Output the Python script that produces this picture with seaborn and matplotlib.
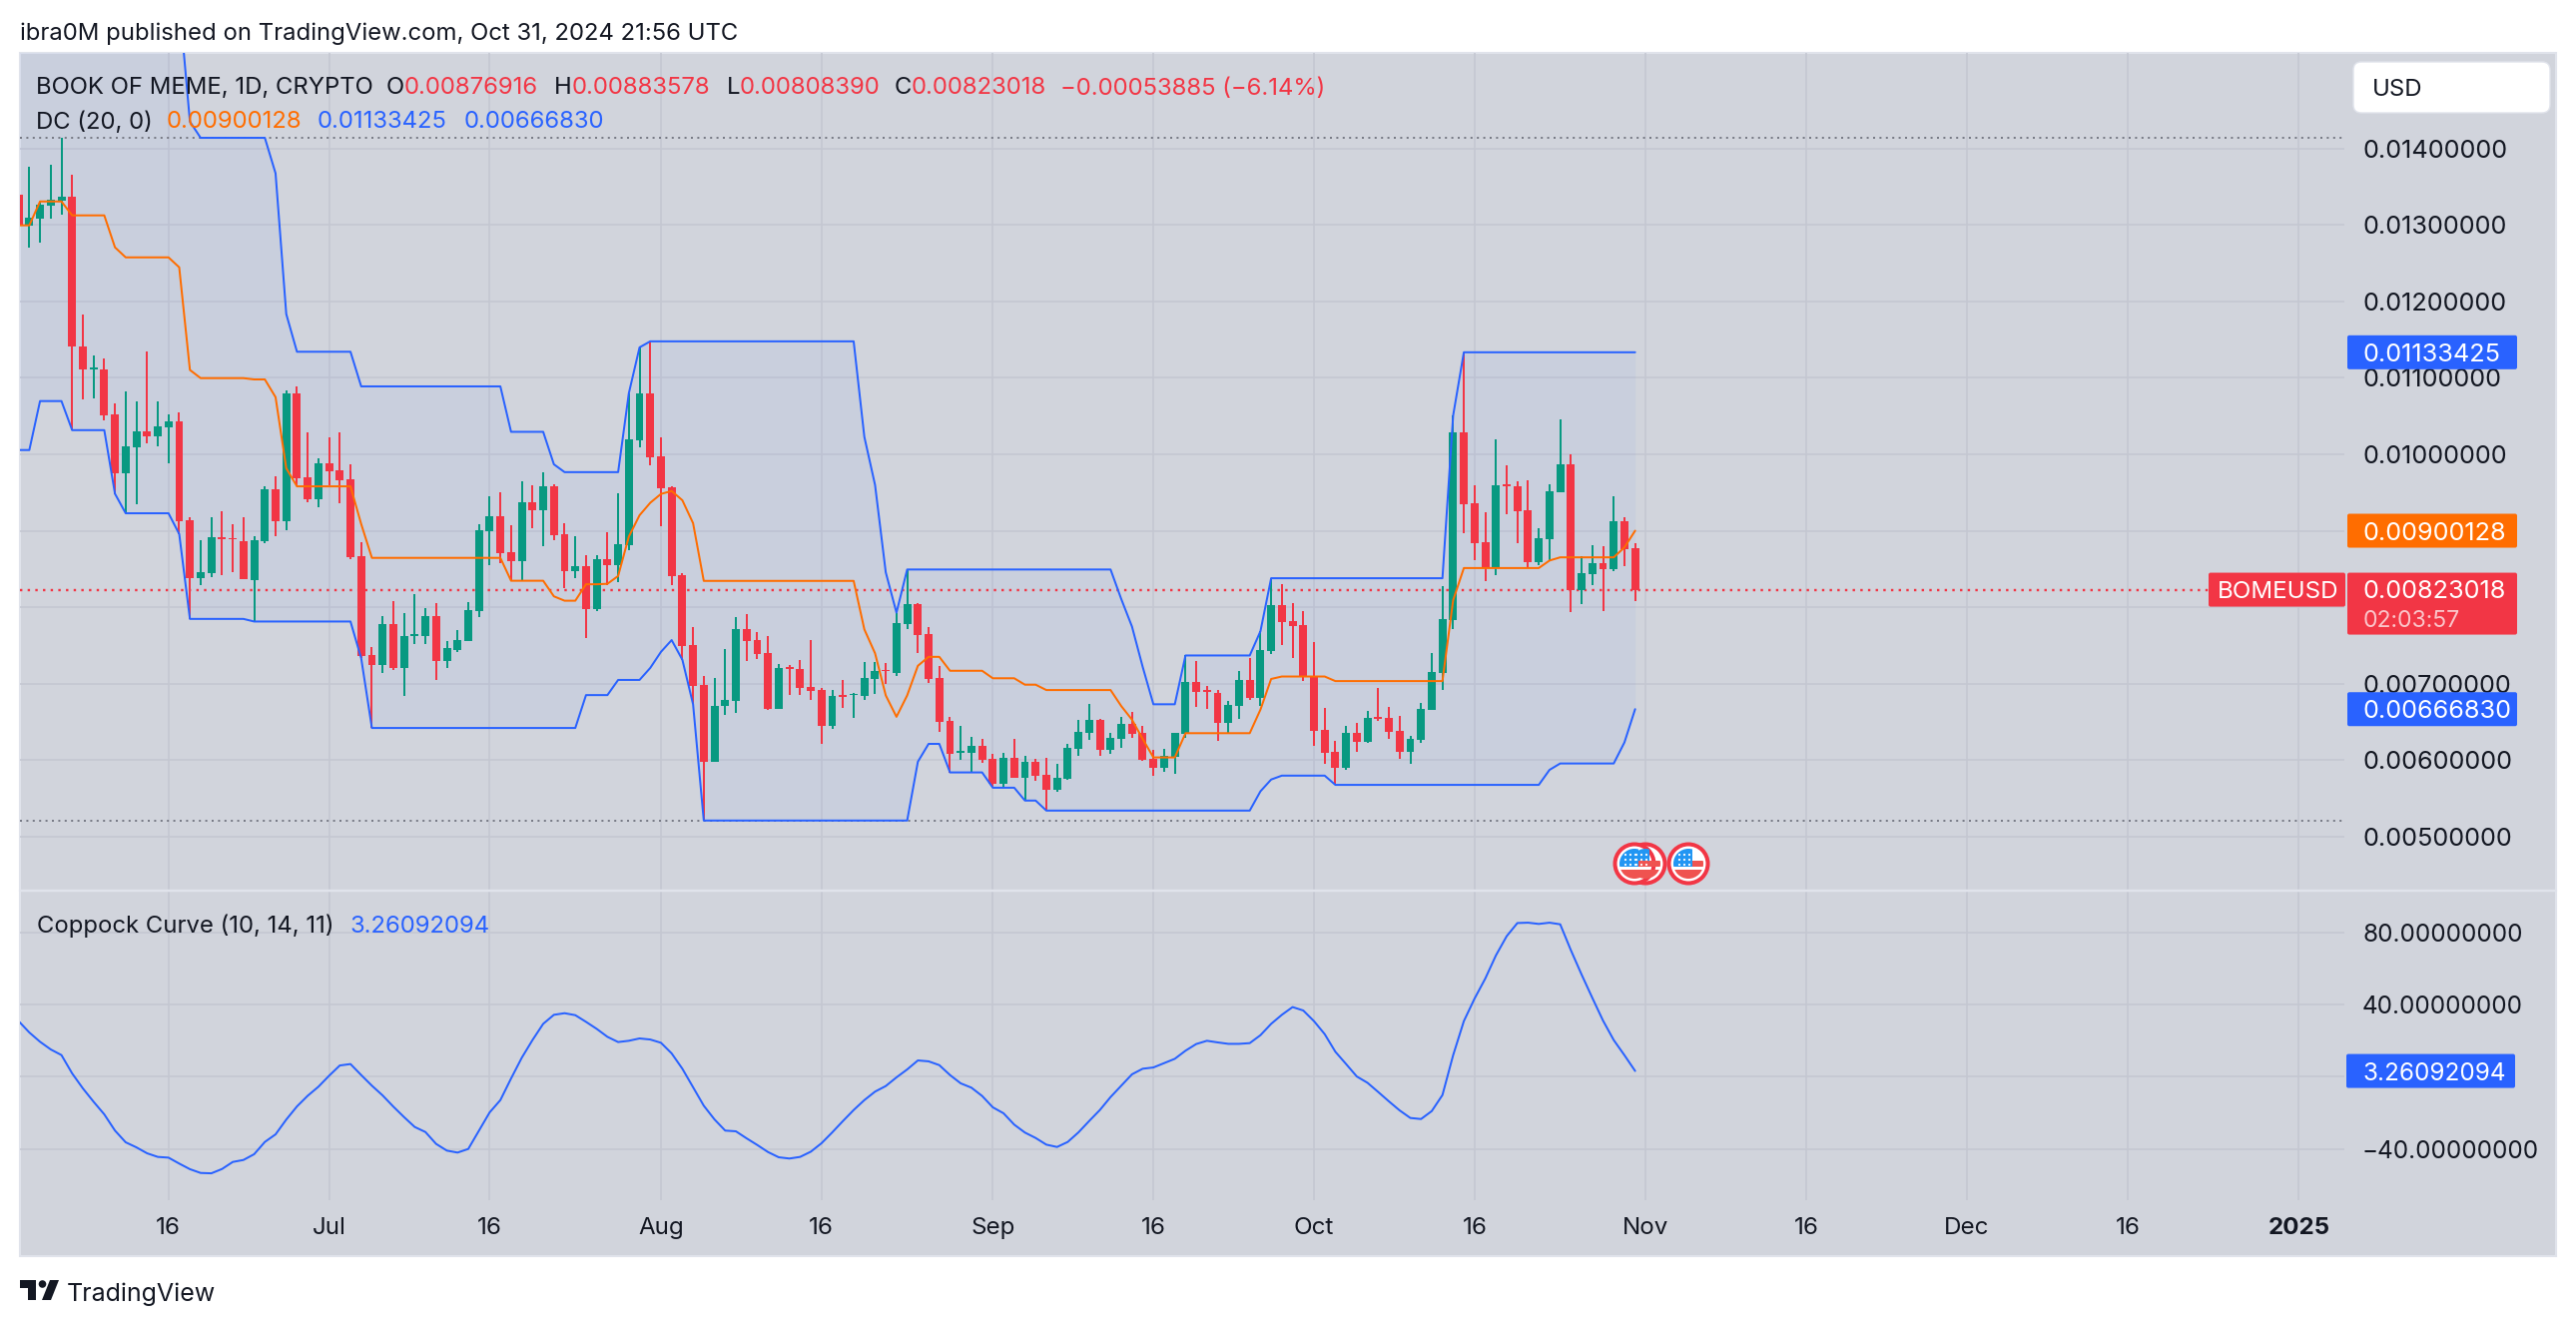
import numpy as np
import pandas as pd
import matplotlib
matplotlib.use("Agg")
import matplotlib.pyplot as plt
from matplotlib.patches import Rectangle, FancyBboxPatch, Circle, Polygon
import seaborn as sns

# ---------- data (prices in thousandths of a USD) ----------
open_ = [13.390,12.994,13.079,13.255,13.317,13.362,11.415,11.109,11.115,10.520,9.750,10.096,10.305,10.237,10.350,10.430,9.139,8.380,8.448,8.918,8.901,8.867,8.358,8.862,9.541,9.128,10.798,9.694,9.411,
 9.881,9.790,9.671,8.663,7.378,7.248,7.780,7.208,7.622,7.622,7.888,7.299,7.446,7.559,7.950,8.997,9.190,8.720,8.601,9.371,9.269,9.580,8.958,8.471,8.539,7.973,8.629,8.550,8.811,10.181,10.797,
 9.972,9.571,8.420,7.506,6.983,5.981,6.704,6.774,7.715,7.571,7.403,6.671,7.221,7.193,6.960,6.918,6.447,6.853,6.848,6.839,7.067,7.175,7.142,7.781,8.047,7.650,7.077,6.513,6.102,6.102,6.186,
 6.018,5.692,6.032,5.771,5.981,5.809,5.613,5.757,6.149,6.359,6.526,6.135,6.279,6.475,6.354,6.018,5.902,6.042,6.345,7.021,6.914,6.881,6.489,6.708,7.049,6.811,7.426,8.028,7.818,7.767,
 7.095,6.396,6.112,5.907,6.359,6.242,6.569,6.555,6.382,6.112,6.266,6.657,7.142,7.832,10.289,9.361,8.853,8.513,9.609,9.581,9.268,8.592,8.895,9.506,9.870,8.228,8.434,8.578,8.499,9.124,8.769]
high = [13.390,13.758,13.306,13.787,14.138,13.657,11.828,11.290,11.251,10.667,10.820,10.690,11.347,10.690,10.520,10.543,9.173,8.878,9.184,9.258,9.088,9.184,8.935,9.580,9.711,10.837,10.883,10.288,9.954,
 10.220,10.288,9.869,8.845,7.486,7.882,8.080,7.927,8.171,7.995,8.058,7.559,7.701,8.069,9.088,9.450,9.501,9.071,9.648,9.597,9.767,9.609,9.105,8.929,8.680,8.680,8.980,9.490,10.798,11.398,11.478,
 10.219,9.580,8.443,7.748,7.100,7.077,7.454,7.874,7.911,7.678,7.622,7.258,7.249,7.310,7.571,6.951,6.918,7.049,6.881,7.287,7.287,7.268,7.930,8.494,8.056,7.748,7.231,6.568,6.447,6.307,6.279,
 6.084,6.093,6.279,6.056,6.018,6.032,5.953,6.214,6.522,6.736,6.545,6.359,6.568,6.634,6.447,6.135,6.149,6.354,7.370,7.296,6.970,6.914,6.774,7.161,7.338,7.687,8.377,8.298,8.056,7.949,
 7.552,6.681,6.247,6.447,6.485,6.643,6.946,6.699,6.578,6.317,6.750,7.403,8.275,10.508,11.334,9.595,9.245,10.196,9.856,9.641,9.660,9.035,9.609,10.457,10.000,8.667,8.811,8.797,9.450,9.180,8.836]
low = [12.994,12.705,12.768,13.079,13.136,10.316,10.713,10.730,10.447,9.484,9.230,9.343,10.147,10.107,9.881,8.958,7.848,8.295,8.392,8.426,8.465,8.369,7.814,8.833,8.935,9.014,9.597,9.371,9.314,
 9.597,9.360,8.624,7.333,6.422,7.135,7.174,6.840,7.514,7.514,7.050,7.208,7.418,7.559,7.871,8.550,8.578,8.352,8.352,9.031,8.794,8.873,8.250,8.380,7.599,7.950,8.295,8.324,8.748,10.090,9.855,
 9.063,8.294,7.315,6.741,5.212,5.981,6.592,6.625,7.296,7.329,6.657,6.671,6.858,6.858,6.792,6.219,6.410,6.685,6.555,6.792,6.871,6.997,7.100,7.720,7.408,7.016,6.373,5.841,6.009,5.832,5.962,
 5.645,5.645,5.766,5.473,5.729,5.342,5.589,5.748,6.056,6.265,6.056,6.084,6.163,6.298,5.986,5.795,5.851,5.823,6.298,6.699,6.671,6.251,6.354,6.545,6.792,6.708,7.394,7.510,7.343,7.040,
 6.191,5.958,5.678,5.879,6.112,6.233,6.517,6.284,6.019,5.953,6.233,6.657,6.923,7.716,8.970,8.615,8.345,8.420,9.217,8.839,8.513,8.545,8.601,9.506,7.939,8.042,8.289,7.949,8.471,8.536,8.084]
close = [12.994,13.090,13.266,13.323,13.362,11.409,11.109,11.132,10.503,9.750,10.107,10.294,10.237,10.362,10.430,9.128,8.380,8.460,8.918,8.884,8.884,8.369,8.878,9.541,9.128,10.798,9.682,9.411,9.881,
 9.779,9.665,8.652,7.361,7.248,7.780,7.208,7.622,7.644,7.888,7.299,7.469,7.571,7.961,9.014,9.190,8.709,8.601,9.371,9.269,9.580,8.941,8.471,8.539,7.978,8.629,8.550,8.828,10.198,10.798,9.967,
 9.562,8.410,7.492,6.970,5.981,6.708,6.788,7.715,7.557,7.394,6.671,7.207,7.198,6.946,6.904,6.447,6.839,6.834,6.867,7.077,7.165,7.161,7.795,8.047,7.641,7.063,6.503,6.084,6.121,6.186,6.004,
 5.692,6.032,5.771,5.981,5.795,5.613,5.771,6.163,6.373,6.526,6.135,6.293,6.475,6.345,6.004,5.902,6.051,6.354,7.021,6.895,6.899,6.489,6.722,7.049,6.811,7.440,8.028,7.809,7.753,7.086,
 6.382,6.098,5.907,6.359,6.242,6.555,6.545,6.373,6.112,6.280,6.671,7.156,7.846,10.289,9.347,8.839,8.513,9.595,9.581,9.254,8.592,8.904,9.515,9.870,8.228,8.448,8.578,8.504,9.124,8.760,8.230]

dc_upper = [15.93]*16 + [14.35] + [14.138]*7 + [13.674, 11.834] + [11.341]*6 + [10.888]*14 + [10.294]*4 + [9.869] + [9.767]*6 + [10.798, 11.398] \
    + [11.477]*20 + [10.228, 9.599, 8.457, 7.930] + [8.494]*20 + [8.107, 7.748, 7.221] + [6.732]*3 + [7.370]*7 + [7.687] + [8.380]*17 + [10.508] + [11.334]*17
dc_lower = [10.056]*2 + [10.696]*3 + [10.316]*4 + [9.484] + [9.229]*5 + [8.958] + [7.848]*6 + [7.814]*10 + [7.333] + [6.422]*20 + [6.852]*3 + [7.050]*3 \
    + [7.207, 7.417, 7.571, 7.314, 6.732] + [5.212]*20 + [5.981] + [6.214]*2 + [5.841]*4 + [5.641]*3 + [5.473]*2 + [5.342]*20 + [5.594, 5.748] + [5.799]*5 \
    + [5.678]*20 + [5.874] + [5.958]*6 + [6.233, 6.668]
dc_basis = [12.994]*2 + [13.306]*3 + [13.124]*4 + [12.706] + [12.575]*5 + [12.445, 11.103] + [10.996]*5 + [10.979]*2 + [10.747, 9.818] + [9.581]*6 + [9.088] \
    + [8.646]*13 + [8.347]*4 + [8.143] + [8.086]*2 + [8.301]*2 + [8.307, 8.409, 8.924, 9.203, 9.366, 9.482, 9.520, 9.399, 9.100] + [8.345]*15 \
    + [7.711, 7.398, 6.848, 6.568, 6.848, 7.235] + [7.352]*2 + [7.170]*4 + [7.072]*3 + [6.988]*2 + [6.918]*7 + [6.708, 6.531, 6.279] + [6.037]*3 + [6.354]*7 \
    + [6.662, 7.063] + [7.095]*5 + [7.035]*11 + [8.093] + [8.513]*8 + [8.611] + [8.653]*6 + [8.783, 9.001]
coppock = [30.9,24.6,19.45,15.2,12.07,1.9,-6.4,-13.8,-20.8,-29.8,-36.3,-39.1,-42.4,-44.4,-44.8,-48.1,-51.2,-53.3,-53.5,-51.1,-47.2,-46.1,-42.9,-36.1,-31.9,-23.7,-16.4,-10.5,-5.5,
 0.6,6.3,7.1,1.0,-4.9,-10.3,-16.5,-22.3,-27.8,-30.6,-37.2,-40.9,-42.0,-40.0,-29.8,-19.7,-12.9,-0.9,10.6,20.4,29.4,34.4,35.3,34.2,30.5,26.6,22.2,19.3,20.0,21.3,20.7,
 18.9,13.0,4.5,-5.8,-16.0,-23.6,-29.8,-30.2,-34.1,-37.8,-41.7,-44.6,-45.3,-44.4,-41.5,-36.8,-30.8,-24.5,-18.4,-12.9,-8.2,-5.1,-0.3,4.1,9.1,8.6,6.5,1.0,-3.6,-6.0,-10.6,
 -16.9,-20.2,-26.5,-30.9,-33.9,-37.6,-38.9,-36.1,-30.8,-24.5,-18.4,-11.2,-4.9,1.4,4.5,5.2,7.6,10.0,14.5,18.2,20.0,19.1,18.3,18.3,18.7,23.1,29.4,34.4,38.7,36.8,
 30.9,23.7,13.9,7.1,0.2,-3.3,-8.4,-13.6,-18.6,-22.8,-23.4,-19.0,-10.1,12.0,30.9,43.4,54.5,67.4,78.0,85.3,85.5,84.8,85.5,84.6,70.2,56.7,43.8,31.2,20.4,12.0,3.26]

dates = pd.date_range("2024-06-02", "2024-10-31", freq="D")
price_ticks = [5, 6, 7, 8, 9, 10, 11, 12, 13, 14]
coppock_ticks = [80, 40, 0, -40]
time_ticks = ["2024-06-16","2024-07-01","2024-07-16","2024-08-01","2024-08-16","2024-09-01","2024-09-16",
              "2024-10-01","2024-10-16","2024-11-01","2024-11-16","2024-12-01","2024-12-16","2025-01-01"]
time_labels = ["16","Jul","16","Aug","16","Sep","16","Oct","16","Nov","16","Dec","16","2025"]
recent_high, recent_low, last_price = 14.138, 5.212, 8.23018

df = pd.DataFrame({"date": dates, "open": open_, "high": high, "low": low, "close": close,
                   "upper": dc_upper, "lower": dc_lower, "basis": dc_basis, "coppock": coppock})

# ---------- style ----------
BG, GRID, RED, GREEN, BLUE, ORANGE, INK = "#d1d4dc", "#c4c7d1", "#f23645", "#089981", "#2962ff", "#ff6d00", "#131722"
sns.set_theme(style="white")
plt.rcParams["font.family"] = ["Inter", "DejaVu Sans"]
W, H = 2580, 1328
PX = 72 / 100
AXIS_PT, HEAD_PT = 18.2, 17.2
fig = plt.figure(figsize=(W / 100, H / 100), dpi=100, facecolor="white")

def rect(x0, y0, x1, y1):
    return [x0 / W, 1 - y1 / H, (x1 - x0) / W, (y1 - y0) / H]

base = fig.add_axes([0, 0, 1, 1], zorder=0)
base.set_xlim(0, W); base.set_ylim(H, 0); base.axis("off")
base.add_patch(Rectangle((20, 53), 2540, 1205, fc=BG, ec="#e0e3eb", lw=1.5))

ax = fig.add_axes(rect(20, 53, 2348, 892), zorder=1, facecolor="none")
bx = fig.add_axes(rect(20, 892, 2348, 1202), zorder=1, facecolor="none")
xlim = (pd.Timestamp("2024-06-02 03:00"), pd.Timestamp("2025-01-05 06:00"))
tick_dates = pd.to_datetime(time_ticks)

# ---------- price pane ----------
ax.fill_between(df.date, df.lower, df.upper, color=BLUE, alpha=0.042, lw=0, zorder=1)
up = df.close >= df.open
colors = np.where(up, GREEN, RED)
ax.vlines(df.date, df.low, df.high, colors=colors, lw=2 * PX, zorder=3)
ax.bar(df.date, (df.close - df.open).abs(), bottom=df[["open", "close"]].min(axis=1), width=0.74,
       color=colors, lw=0, zorder=3)
for col, c in (("upper", BLUE), ("lower", BLUE), ("basis", ORANGE)):
    sns.lineplot(data=df, x="date", y=col, ax=ax, color=c, lw=2 * PX, estimator=None, errorbar=None, legend=False, zorder=4)
for v, c, lw in ((recent_high, "#787b86", 2), (recent_low, "#787b86", 2), (last_price, RED, 2.4)):
    ax.axhline(v, color=c, lw=lw * PX, ls=(0, (1, 2.2)), zorder=2)
ax.set_ylim(14 - (892 - 148.6) / 76.6, 14 + (148.6 - 53) / 76.6)
ax.set_yticks(price_ticks)
ax.set_yticklabels([f"{t / 1000:.8f}" for t in price_ticks])

# ---------- Coppock pane ----------
sns.lineplot(data=df, x="date", y="coppock", ax=bx, color=BLUE, lw=2 * PX, estimator=None, errorbar=None, legend=False, zorder=4)
bx.set_ylim(-40 - (1202 - 1150.7) / 1.806, 80 + (934 - 892) / 1.806)
bx.set_yticks(coppock_ticks)
bx.set_yticklabels(["80.00000000", "40.00000000", "", "\u221240.00000000"])

for a, lab in ((ax, AXIS_PT), (bx, 17.5)):
    a.set_xlim(*xlim)
    a.set_xticks(tick_dates)
    a.set_xlabel(""); a.set_ylabel("")
    a.grid(True, color=GRID, lw=1.6 * PX)
    a.set_axisbelow(True)
    a.yaxis.tick_right()
    a.tick_params(axis="y", length=0, pad=18 * PX, labelsize=lab, labelcolor=INK)
    for s in a.spines.values():
        s.set_visible(False)
ax.tick_params(axis="x", length=0, labelbottom=False)
bx.set_xticklabels(time_labels)
bx.tick_params(axis="x", length=0, pad=17 * PX, labelsize=17.4, labelcolor=INK)
bx.get_xticklabels()[-1].set_fontweight("bold")

# ---------- overlay in figure pixels ----------
ov = fig.add_axes([0, 0, 1, 1], zorder=5, facecolor="none")
ov.set_xlim(0, W); ov.set_ylim(H, 0); ov.axis("off")

def ypx(a, v):
    return H - a.get_yaxis_transform().transform((0, v))[1]

def txt(x, y, s, c=INK, size=AXIS_PT, **kw):
    ov.text(x, y, s, color=c, fontsize=size, va="center_baseline", ha=kw.pop("ha", "left"), **kw)

def badge(x0, x1, yc, s, c, tx=2367, h=34, size=AXIS_PT):
    ov.add_patch(FancyBboxPatch((x0, yc - h / 2), x1 - x0, h, boxstyle="round,pad=0,rounding_size=2", fc=c, ec="none"))
    txt(tx, yc, s, "white", size=size)

# separator between the panes
ov.plot([20, 2560], [892, 892], color="#e0e3eb", lw=2.5 * PX)

txt(20, 31, "ibra0M published on TradingView.com, Oct 31, 2024 21:56 UTC", size=HEAD_PT)
for x, s, c in ((36, "BOOK OF MEME, 1D, CRYPTO", INK), (387, "O", INK), (405, "0.00876916", RED), (555, "H", INK), (573, "0.00883578", RED),
                (728, "L", INK), (741, "0.00808390", RED), (895.5, "C", INK), (912.5, "0.00823018", RED), (1062, "\u22120.00053885 (\u22126.14%)", RED)):
    txt(x, 86, s, c, size=HEAD_PT)
for x, s, c in ((36, "DC (20, 0)", INK), (167, "0.00900128", ORANGE), (318, "0.01133425", BLUE), (465, "0.00666830", BLUE)):
    txt(x, 120, s, c, size=HEAD_PT)
txt(37, 925, "Coppock Curve (10, 14, 11)", size=HEAD_PT)
txt(351, 925, "3.26092094", BLUE, size=HEAD_PT)

# USD button
ov.add_patch(FancyBboxPatch((2357, 62), 197, 51, boxstyle="round,pad=0,rounding_size=8", fc="white", ec="#e0e3eb", lw=1))
txt(2376, 87, "USD", size=HEAD_PT)

# value badges
badge(2351, 2521, ypx(ax, dc_upper[-1]), "0.01133425", BLUE)
badge(2351, 2521, ypx(ax, dc_basis[-1]), "0.00900128", ORANGE)
badge(2351, 2521, ypx(ax, dc_lower[-1]), "0.00666830", BLUE)
yl = ypx(ax, last_price)
ov.add_patch(FancyBboxPatch((2351, yl - 17), 170, 62, boxstyle="round,pad=0,rounding_size=2", fc=RED, ec="none"))
txt(2367, yl - 1, "0.00823018", "white")
txt(2367, yl + 29, "02:03:57", "#fbc5ca", size=16.6)
ov.add_patch(FancyBboxPatch((2212, yl - 17), 137, 34, boxstyle="round,pad=0,rounding_size=2", fc=RED, ec="none"))
txt(2221, yl, "BOMEUSD", "white", size=17.4)
badge(2350, 2519, ypx(bx, coppock[-1]), "3.26092094", BLUE, tx=2366, size=17.5)

# event flags
def flag(cx, cy):
    ov.add_patch(Circle((cx, cy), 19.5, fc="white", ec=RED, lw=4 * PX, zorder=6))
    clip = Circle((cx, cy), 15, transform=ov.transData)
    parts = (((cx - 15, cy + 6), 30, 10, "#ef5350"), ((cx + 4, cy - 3), 12, 6, "#ef5350"), ((cx - 15, cy - 15), 19, 18, "#2196f3"))
    for xy, w, h, col in parts:
        p = Rectangle(xy, w, h, fc=col, ec="none", zorder=7)
        ov.add_patch(p)
        p.set_clip_path(clip)
    for dx in (-9, -4, 1):
        for dy in (-9, -4, 1):
            ov.add_patch(Circle((cx + dx, cy + dy), 1.1, fc="white", ec="none", zorder=8))
for cx in (1648, 1637, 1691):
    flag(cx, 865)

# TradingView mark
ov.add_patch(Polygon([(20, 1282), (36, 1282), (36, 1302), (28, 1302), (28, 1290), (20, 1290)], fc=INK, ec="none"))
ov.add_patch(Circle((42.5, 1286), 3.8, fc=INK, ec="none"))
ov.add_patch(Polygon([(50, 1282), (59, 1282), (51, 1302), (42, 1302)], fc=INK, ec="none"))
txt(67, 1294, "TradingView", size=18)

fig.savefig("out.png", dpi=100, facecolor="white")
